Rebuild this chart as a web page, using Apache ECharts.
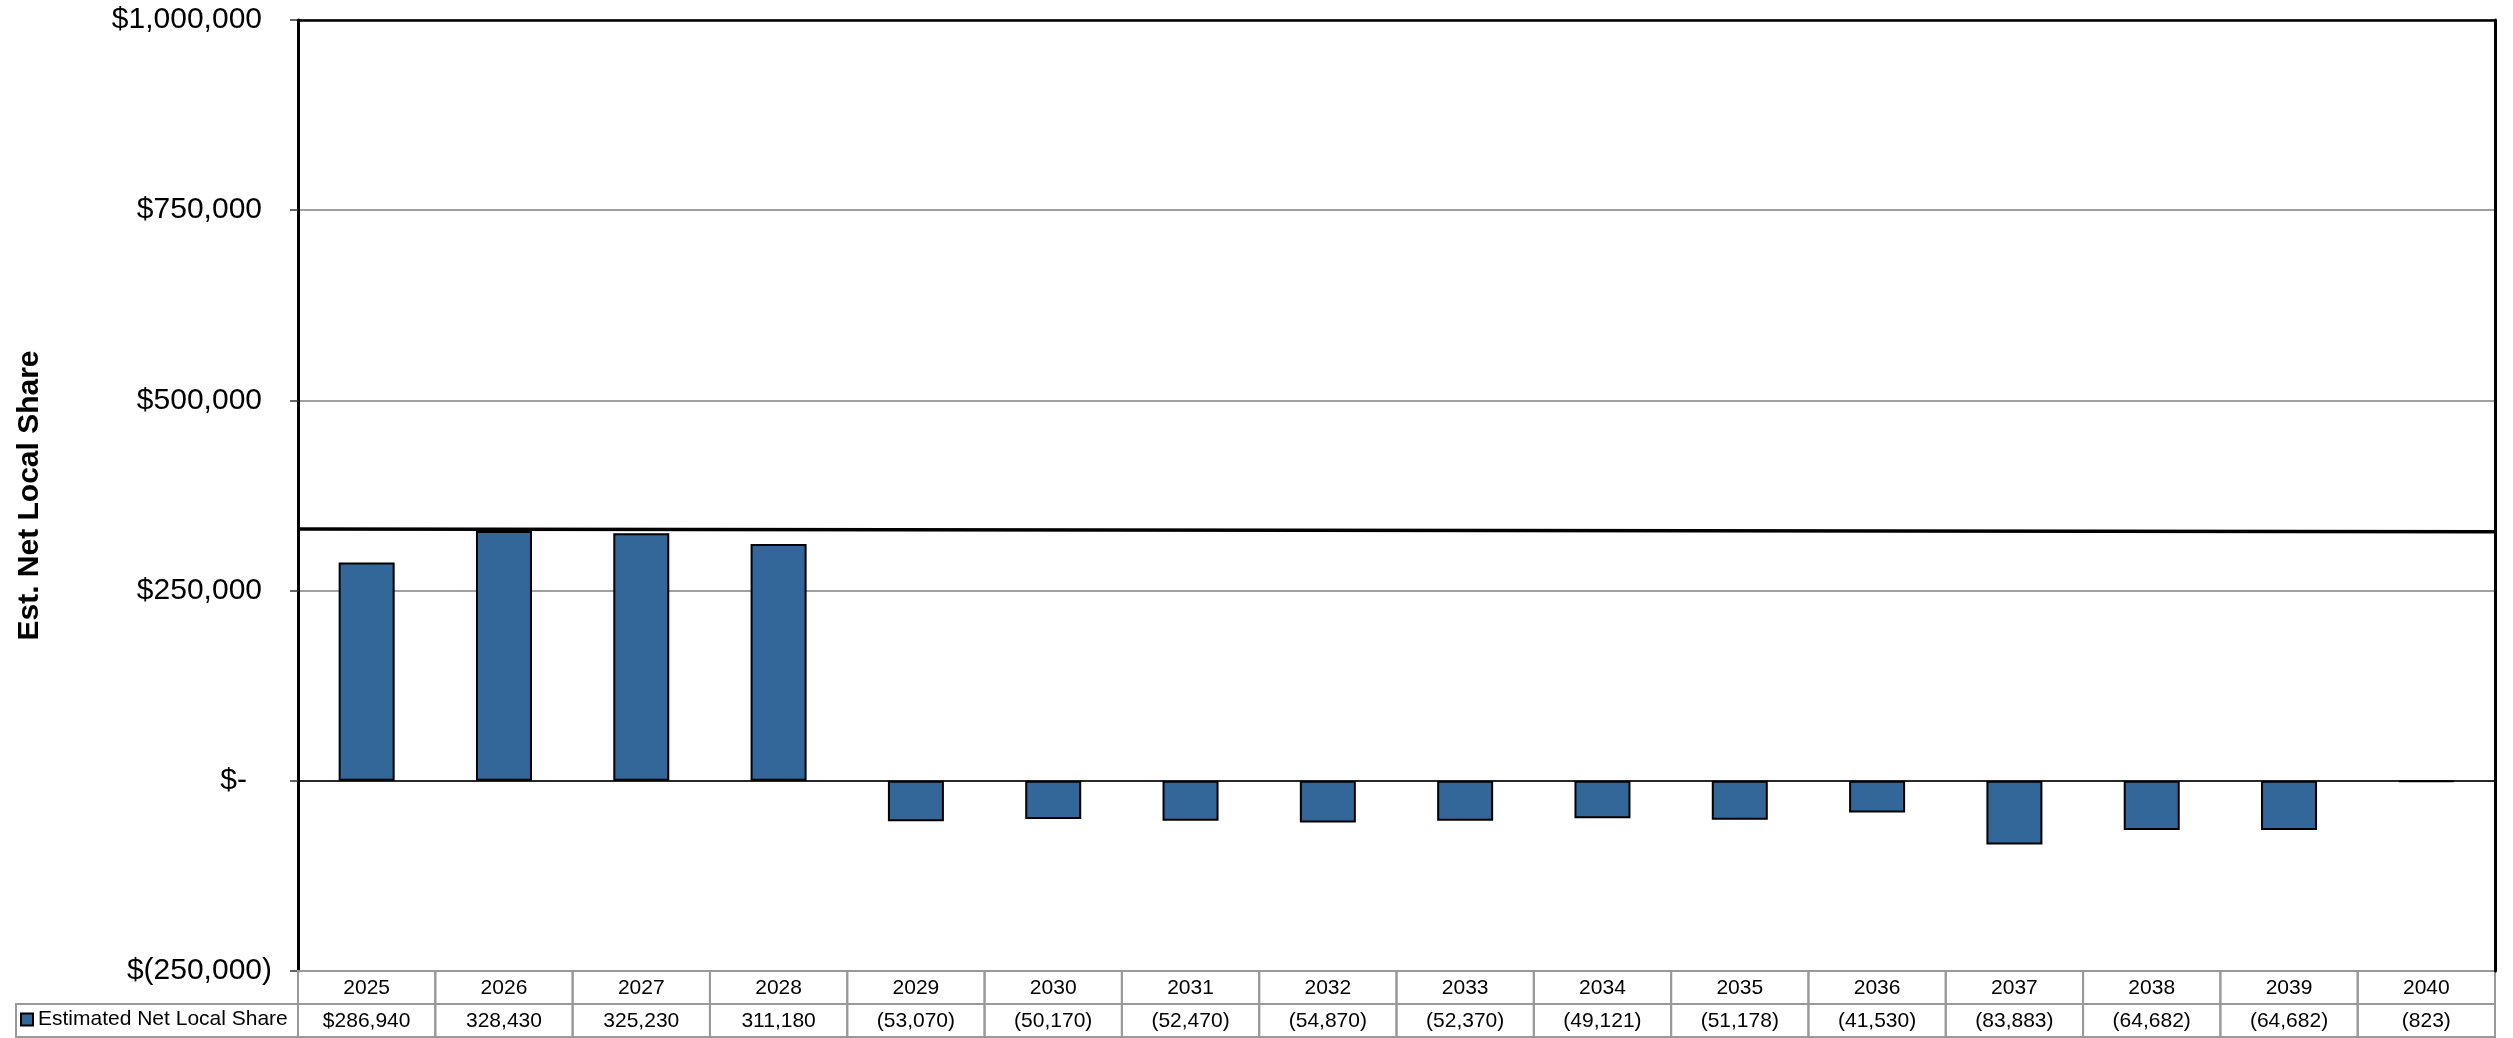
<!DOCTYPE html>
<html>
<head>
<meta charset="utf-8">
<title>Est. Net Local Share</title>
<style>
  html, body { margin: 0; padding: 0; background: #fff; }
  #chart { width: 2513px; height: 1038px; }
</style>
</head>
<body>
<div id="chart"></div>
<script src="https://cdn.jsdelivr.net/npm/echarts@6/dist/echarts.min.js"></script>
<script>
var years = ['2025', '2026', '2027', '2028', '2029', '2030', '2031', '2032',
             '2033', '2034', '2035', '2036', '2037', '2038', '2039', '2040'];
var netLocalShare = [286940, 328430, 325230, 311180, -53070, -50170, -52470, -54870,
                     -52370, -49121, -51178, -41530, -83883, -64682, -64682, -823];
// flat reference line across the plot, start / end value
var trendLine = [331000, 327300];
var yMin = -250000, yMax = 1000000, yStep = 250000;

var FONT = '"Liberation Sans", Arial, sans-serif';

function withCommas(n) {
  return String(Math.round(Math.abs(n))).replace(/\B(?=(\d{3})+(?!\d))/g, ',');
}
function tableText(v, i) {
  var s = withCommas(v);
  if (v < 0) s = '(' + s + ')';
  return (i === 0 ? '$' : '') + s;
}

// table cells: row 0 = years, row 1 = values
var cells = [], cellText = [];
years.forEach(function (y, i) {
  cells.push([i, 0]); cellText.push(y);
  cells.push([i, 1]); cellText.push(tableText(netLocalShare[i], i));
});

var chart = echarts.init(document.getElementById('chart'));

chart.setOption({
  backgroundColor: '#fff',
  animation: false,
  textStyle: { fontFamily: FONT },
  grid: [
    { left: 298, right: 18, top: 20, bottom: 67, outerBoundsMode: 'none', containLabel: false },
    { left: 298, right: 18, top: 971, height: 66, outerBoundsMode: 'none', containLabel: false }
  ],
  legend: {
    data: ['Estimated Net Local Share'],
    left: 20, top: 1009,
    icon: 'rect', itemWidth: 12, itemHeight: 12, itemGap: 4,
    padding: 0,
    textStyle: { fontSize: 21, color: '#000', fontFamily: FONT }
  },
  graphic: [{
    type: 'rect',
    shape: { x: 16, y: 1004, width: 282, height: 33 },
    style: { fill: 'none', stroke: '#999', lineWidth: 2 },
    silent: true
  }],
  xAxis: [
    {
      type: 'category', gridIndex: 0, data: years,
      axisLine: { onZero: true, lineStyle: { color: '#000', width: 1.5 } },
      axisTick: { show: false }, axisLabel: { show: false }
    },
    {
      type: 'value', gridIndex: 0, min: 0, max: 1, position: 'top', z: 5,
      axisLine: { show: true, onZero: false, lineStyle: { color: '#000', width: 2.5 } },
      axisTick: { show: false }, axisLabel: { show: false }, splitLine: { show: false }
    },
    {
      type: 'category', gridIndex: 1, data: years,
      axisLine: { show: false }, axisTick: { show: false },
      axisLabel: { show: false }, splitLine: { show: false }
    }
  ],
  yAxis: [
    {
      type: 'value', gridIndex: 0, min: yMin, max: yMax, interval: yStep,
      name: 'Est. Net Local Share', nameLocation: 'middle', nameGap: 253, nameRotate: 90,
      nameTextStyle: { fontSize: 30, fontWeight: 'bold', color: '#000', fontFamily: FONT },
      axisLine: { show: true, onZero: false, lineStyle: { color: '#000', width: 3 } },
      axisTick: { show: true, length: 8, lineStyle: { color: '#333', width: 1.5 } },
      axisLabel: {
        margin: 26,
        formatter: function (v) {
          if (v === 0) return '{z|$-}';
          if (v < 0) return '{n|$(' + withCommas(v) + ')}';
          return '{p|$' + withCommas(v) + '}';
        },
        rich: {
          p: { fontSize: 30, color: '#000', fontFamily: FONT, padding: [0, 10, 0, 0] },
          z: { fontSize: 30, color: '#000', fontFamily: FONT, padding: [0, 25, 0, 0] },
          n: { fontSize: 30, color: '#000', fontFamily: FONT }
        }
      },
      splitLine: { show: true, lineStyle: { color: '#808080', width: 1.5 } }
    },
    {
      type: 'value', gridIndex: 0, min: yMin, max: yMax, interval: yStep, position: 'right', z: 5,
      axisLine: { show: true, onZero: false, lineStyle: { color: '#000', width: 3 } },
      axisTick: { show: false }, axisLabel: { show: false }, splitLine: { show: false }
    },
    {
      type: 'value', gridIndex: 1, min: 0, max: 2, inverse: true, show: false
    }
  ],
  series: [
    {
      name: 'Estimated Net Local Share',
      type: 'bar', xAxisIndex: 0, yAxisIndex: 0,
      barWidth: 56, barMinHeight: 1,
      itemStyle: { color: '#336699', borderColor: '#000', borderWidth: 2 },
      data: netLocalShare,
      z: 3
    },
    {
      type: 'line', xAxisIndex: 1, yAxisIndex: 0,
      symbol: 'none',
      lineStyle: { color: '#000', width: 3.5 },
      data: [[0, trendLine[0]], [1, trendLine[1]]],
      z: 5
    },
    {
      type: 'custom', xAxisIndex: 2, yAxisIndex: 2,
      encode: { x: 0, y: 1 },
      data: cells,
      renderItem: function (params, api) {
        var i = api.value(0), row = api.value(1);
        var c = api.coord([i, row + 0.5]);
        var sz = api.size([1, 1]);
        return {
          type: 'group',
          children: [
            {
              type: 'rect',
              shape: { x: c[0] - sz[0] / 2, y: c[1] - sz[1] / 2, width: sz[0], height: sz[1] },
              style: { fill: 'none', stroke: '#999', lineWidth: 2 }
            },
            {
              type: 'text',
              style: {
                text: cellText[params.dataIndex],
                x: c[0], y: c[1] + 1,
                align: 'center', verticalAlign: 'middle',
                font: '21px ' + FONT, fill: '#000'
              }
            }
          ]
        };
      }
    }
  ]
});
</script>
</body>
</html>
